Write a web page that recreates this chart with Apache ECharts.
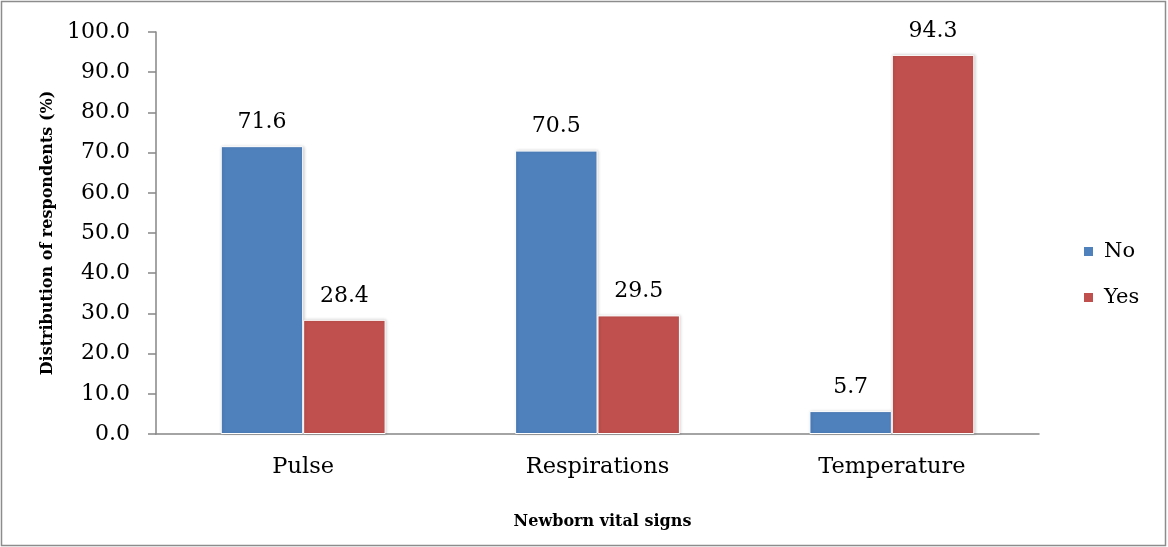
<!DOCTYPE html>
<html>
<head>
<meta charset="utf-8">
<script src="https://cdn.jsdelivr.net/npm/echarts@6/dist/echarts.min.js"></script>
<style>
html,body{margin:0;padding:0;background:#fff;}
#main{width:1168px;height:547px;}
</style>
</head>
<body>
<div id="main"></div>
<script>
const categories = ['Pulse', 'Respirations', 'Temperature'];
const seriesNames = ['No', 'Yes'];
const noValues = [71.6, 70.5, 5.7];
const yesValues = [28.4, 29.5, 94.3];
const yTickMin = 0, yTickMax = 100, yTickStep = 10;

const FONT = '"DejaVu Serif", "Liberation Serif", serif';
const chart = echarts.init(document.getElementById('main'));

const barStyle = (color) => ({
  color: color,
  borderColor: '#ffffff',
  borderWidth: 1,
  shadowColor: 'rgba(0,0,0,0.18)',
  shadowBlur: 3,
  shadowOffsetX: 1,
  shadowOffsetY: 0
});
const labelStyle = {
  show: true,
  position: 'top',
  distance: 13,
  fontFamily: FONT,
  fontSize: 22,
  color: '#000',
  formatter: (p) => p.value.toFixed(1)
};

chart.setOption({
  animation: false,
  backgroundColor: '#fff',
  graphic: [{
    type: 'rect',
    shape: { x: 1.5, y: 1.5, width: 1164, height: 544 },
    style: { fill: 'none', stroke: '#8c8c8c', lineWidth: 1.5 },
    silent: true
  }],
  grid: { left: 156, right: 129, top: 32, bottom: 113 },
  legend: {
    orient: 'vertical',
    left: 1077,
    top: 236,
    itemWidth: 11,
    itemHeight: 11,
    itemGap: 25,
    icon: 'rect',
    textStyle: { fontFamily: FONT, fontSize: 21, color: '#000', padding: [0, 0, 0, 5] },
    data: seriesNames
  },
  xAxis: {
    type: 'category',
    data: categories,
    name: 'Newborn vital signs',
    nameLocation: 'middle',
    nameGap: 80,
    nameTextStyle: { fontFamily: FONT, fontSize: 16, fontWeight: 'bold', color: '#000', padding: [0, 0, 0, 10] },
    axisLine: { lineStyle: { color: '#868686', width: 1.5 } },
    axisTick: { show: false },
    axisLabel: { fontFamily: FONT, fontSize: 22.5, color: '#000', margin: 22 }
  },
  yAxis: {
    type: 'value',
    min: yTickMin,
    max: yTickMax,
    interval: yTickStep,
    name: 'Distribution of respondents (%)',
    nameLocation: 'middle',
    nameGap: 100,
    nameRotate: 90,
    nameTextStyle: { fontFamily: FONT, fontSize: 16, fontWeight: 'bold', color: '#000' },
    axisLine: { show: true, lineStyle: { color: '#868686', width: 1.5 } },
    axisTick: { show: true, length: 8, lineStyle: { color: '#868686', width: 1.5 } },
    splitLine: { show: false },
    axisLabel: { fontFamily: FONT, fontSize: 22, color: '#000', margin: 26, formatter: (v) => v.toFixed(1) }
  },
  series: [
    { name: seriesNames[0], type: 'bar', data: noValues, barGap: '0%', barCategoryGap: '44%', itemStyle: barStyle('#4F81BD'), label: labelStyle },
    { name: seriesNames[1], type: 'bar', data: yesValues, barGap: '0%', barCategoryGap: '44%', itemStyle: barStyle('#C0504D'), label: labelStyle }
  ]
});
</script>
</body>
</html>
